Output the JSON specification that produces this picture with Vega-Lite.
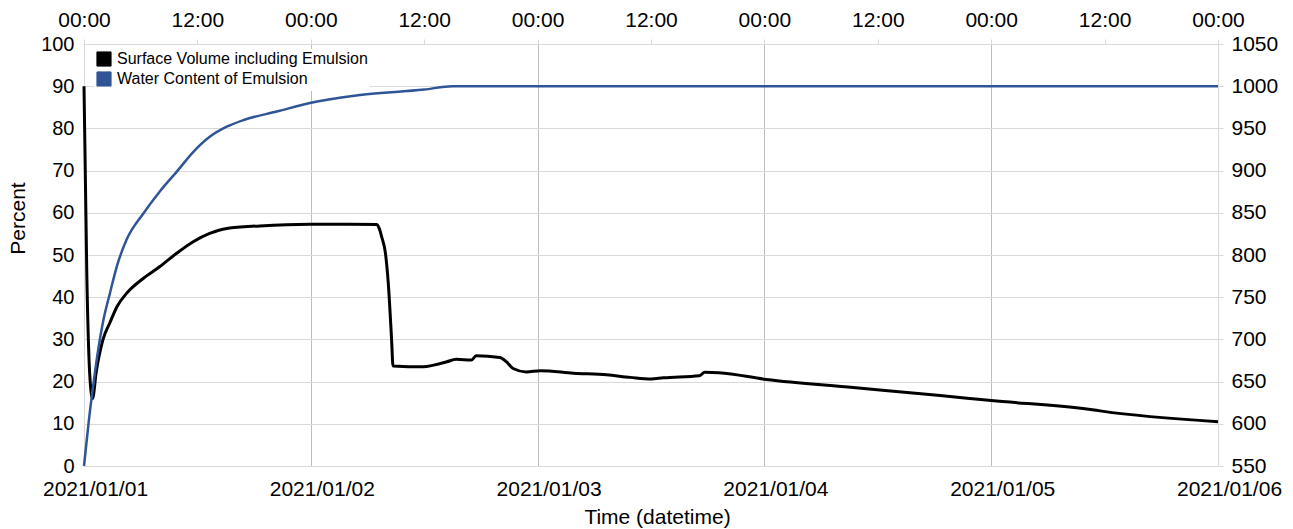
{
  "$schema": "https://vega.github.io/schema/vega-lite/v6.json",
  "autosize": {"type": "none"},
  "width": 1134,
  "height": 422,
  "padding": {"left": 84, "top": 44, "right": 75, "bottom": 63},
  "background": "white",
  "config": {
    "font": "Liberation Sans",
    "view": {"stroke": null},
    "axis": {"labelFont": "Liberation Sans", "titleFont": "Liberation Sans", "labelColor": "#000", "titleColor": "#000", "labelFontSize": 21, "titleFontSize": 21, "titleFontWeight": "normal", "labelFlush": false, "labelOverlap": false}
  },
  "datasets": {
    "volume": [
      {"time": "2021-01-01T00:00:00Z", "volume": 1000, "series": "Surface Volume including Emulsion"},
      {"time": "2021-01-01T00:18:00Z", "volume": 775, "series": "Surface Volume including Emulsion"},
      {"time": "2021-01-01T00:36:00Z", "volume": 660, "series": "Surface Volume including Emulsion"},
      {"time": "2021-01-01T00:54:00Z", "volume": 630, "series": "Surface Volume including Emulsion"},
      {"time": "2021-01-01T01:18:00Z", "volume": 662, "series": "Surface Volume including Emulsion"},
      {"time": "2021-01-01T02:00:00Z", "volume": 699.5, "series": "Surface Volume including Emulsion"},
      {"time": "2021-01-01T02:45:00Z", "volume": 720, "series": "Surface Volume including Emulsion"},
      {"time": "2021-01-01T03:30:00Z", "volume": 739, "series": "Surface Volume including Emulsion"},
      {"time": "2021-01-01T04:30:00Z", "volume": 754.5, "series": "Surface Volume including Emulsion"},
      {"time": "2021-01-01T06:18:00Z", "volume": 772.5, "series": "Surface Volume including Emulsion"},
      {"time": "2021-01-01T08:00:00Z", "volume": 786, "series": "Surface Volume including Emulsion"},
      {"time": "2021-01-01T09:48:00Z", "volume": 802, "series": "Surface Volume including Emulsion"},
      {"time": "2021-01-01T11:36:00Z", "volume": 816, "series": "Surface Volume including Emulsion"},
      {"time": "2021-01-01T13:18:00Z", "volume": 825.5, "series": "Surface Volume including Emulsion"},
      {"time": "2021-01-01T15:06:00Z", "volume": 831.5, "series": "Surface Volume including Emulsion"},
      {"time": "2021-01-01T18:36:00Z", "volume": 834.5, "series": "Surface Volume including Emulsion"},
      {"time": "2021-01-01T23:54:00Z", "volume": 836.5, "series": "Surface Volume including Emulsion"},
      {"time": "2021-01-02T04:00:00Z", "volume": 836.5, "series": "Surface Volume including Emulsion"},
      {"time": "2021-01-02T07:00:00Z", "volume": 836, "series": "Surface Volume including Emulsion"},
      {"time": "2021-01-02T07:18:00Z", "volume": 829.5, "series": "Surface Volume including Emulsion"},
      {"time": "2021-01-02T07:30:00Z", "volume": 821.5, "series": "Surface Volume including Emulsion"},
      {"time": "2021-01-02T07:54:00Z", "volume": 802, "series": "Surface Volume including Emulsion"},
      {"time": "2021-01-02T08:12:00Z", "volume": 766.5, "series": "Surface Volume including Emulsion"},
      {"time": "2021-01-02T08:33:00Z", "volume": 699.5, "series": "Surface Volume including Emulsion"},
      {"time": "2021-01-02T08:42:00Z", "volume": 668.5, "series": "Surface Volume including Emulsion"},
      {"time": "2021-01-02T11:54:00Z", "volume": 667.5, "series": "Surface Volume including Emulsion"},
      {"time": "2021-01-02T13:00:00Z", "volume": 669.5, "series": "Surface Volume including Emulsion"},
      {"time": "2021-01-02T14:24:00Z", "volume": 673.5, "series": "Surface Volume including Emulsion"},
      {"time": "2021-01-02T15:24:00Z", "volume": 676.5, "series": "Surface Volume including Emulsion"},
      {"time": "2021-01-02T17:00:00Z", "volume": 675.5, "series": "Surface Volume including Emulsion"},
      {"time": "2021-01-02T17:30:00Z", "volume": 680.5, "series": "Surface Volume including Emulsion"},
      {"time": "2021-01-02T20:00:00Z", "volume": 678.5, "series": "Surface Volume including Emulsion"},
      {"time": "2021-01-02T20:42:00Z", "volume": 673.5, "series": "Surface Volume including Emulsion"},
      {"time": "2021-01-02T21:24:00Z", "volume": 665.5, "series": "Surface Volume including Emulsion"},
      {"time": "2021-01-02T22:48:00Z", "volume": 661.5, "series": "Surface Volume including Emulsion"},
      {"time": "2021-01-03T00:18:00Z", "volume": 663, "series": "Surface Volume including Emulsion"},
      {"time": "2021-01-03T03:48:00Z", "volume": 660, "series": "Surface Volume including Emulsion"},
      {"time": "2021-01-03T07:18:00Z", "volume": 658, "series": "Surface Volume including Emulsion"},
      {"time": "2021-01-03T09:48:00Z", "volume": 655, "series": "Surface Volume including Emulsion"},
      {"time": "2021-01-03T12:00:00Z", "volume": 653, "series": "Surface Volume including Emulsion"},
      {"time": "2021-01-03T13:18:00Z", "volume": 654.5, "series": "Surface Volume including Emulsion"},
      {"time": "2021-01-03T17:06:00Z", "volume": 657, "series": "Surface Volume including Emulsion"},
      {"time": "2021-01-03T17:42:00Z", "volume": 661, "series": "Surface Volume including Emulsion"},
      {"time": "2021-01-03T19:12:00Z", "volume": 660.5, "series": "Surface Volume including Emulsion"},
      {"time": "2021-01-04T00:12:00Z", "volume": 652.5, "series": "Surface Volume including Emulsion"},
      {"time": "2021-01-04T09:24:00Z", "volume": 643, "series": "Surface Volume including Emulsion"},
      {"time": "2021-01-04T18:36:00Z", "volume": 633.5, "series": "Surface Volume including Emulsion"},
      {"time": "2021-01-05T00:00:00Z", "volume": 627.5, "series": "Surface Volume including Emulsion"},
      {"time": "2021-01-05T10:30:00Z", "volume": 617, "series": "Surface Volume including Emulsion"},
      {"time": "2021-01-05T11:42:00Z", "volume": 615, "series": "Surface Volume including Emulsion"},
      {"time": "2021-01-06T00:00:00Z", "volume": 602.5, "series": "Surface Volume including Emulsion"}
    ],
    "water": [
      {"time": "2021-01-01T00:00:00Z", "percent": 0, "series": "Water Content of Emulsion"},
      {"time": "2021-01-01T00:30:00Z", "percent": 10.5, "series": "Water Content of Emulsion"},
      {"time": "2021-01-01T01:00:00Z", "percent": 19.5, "series": "Water Content of Emulsion"},
      {"time": "2021-01-01T01:30:00Z", "percent": 27.5, "series": "Water Content of Emulsion"},
      {"time": "2021-01-01T02:00:00Z", "percent": 34, "series": "Water Content of Emulsion"},
      {"time": "2021-01-01T02:45:00Z", "percent": 41, "series": "Water Content of Emulsion"},
      {"time": "2021-01-01T03:30:00Z", "percent": 47.5, "series": "Water Content of Emulsion"},
      {"time": "2021-01-01T04:30:00Z", "percent": 53.6, "series": "Water Content of Emulsion"},
      {"time": "2021-01-01T06:18:00Z", "percent": 59.9, "series": "Water Content of Emulsion"},
      {"time": "2021-01-01T08:00:00Z", "percent": 65, "series": "Water Content of Emulsion"},
      {"time": "2021-01-01T09:48:00Z", "percent": 69.7, "series": "Water Content of Emulsion"},
      {"time": "2021-01-01T11:36:00Z", "percent": 74.5, "series": "Water Content of Emulsion"},
      {"time": "2021-01-01T13:18:00Z", "percent": 78, "series": "Water Content of Emulsion"},
      {"time": "2021-01-01T15:06:00Z", "percent": 80.4, "series": "Water Content of Emulsion"},
      {"time": "2021-01-01T16:54:00Z", "percent": 82, "series": "Water Content of Emulsion"},
      {"time": "2021-01-01T20:24:00Z", "percent": 84, "series": "Water Content of Emulsion"},
      {"time": "2021-01-01T23:54:00Z", "percent": 86, "series": "Water Content of Emulsion"},
      {"time": "2021-01-02T05:12:00Z", "percent": 87.9, "series": "Water Content of Emulsion"},
      {"time": "2021-01-02T12:00:00Z", "percent": 89.2, "series": "Water Content of Emulsion"},
      {"time": "2021-01-02T15:00:00Z", "percent": 90, "series": "Water Content of Emulsion"},
      {"time": "2021-01-06T00:00:00Z", "percent": 90, "series": "Water Content of Emulsion"}
    ]
  },
  "layer": [
    {
      "data": {"name": "volume"},
      "mark": {"type": "line", "strokeWidth": 3, "strokeJoin": "round", "interpolate": "monotone"},
      "encoding": {
        "x": {
          "field": "time", "type": "temporal",
          "scale": {"type": "utc", "domain": [{"year": 2021, "month": 1, "date": 1, "utc": true}, {"year": 2021, "month": 1, "date": 6, "utc": true}]},
          "axis": {
            "orient": "bottom",
            "values": [
              {"year": 2021, "month": 1, "date": 1, "utc": true},
              {"year": 2021, "month": 1, "date": 2, "utc": true},
              {"year": 2021, "month": 1, "date": 3, "utc": true},
              {"year": 2021, "month": 1, "date": 4, "utc": true},
              {"year": 2021, "month": 1, "date": 5, "utc": true},
              {"year": 2021, "month": 1, "date": 6, "utc": true}
            ],
            "labelExpr": "utcFormat(datum.value, '%Y/%m/%d')",
            "labelOffset": 11,
            "title": "Time (datetime)",
            "titleX": 573,
            "grid": true, "gridColor": "#bdbdbd", "gridWidth": 1,
            "domain": true, "domainColor": "#d9d9d9",
            "ticks": false, "labelPadding": 12, "titlePadding": 7
          }
        },
        "y": {
          "field": "volume", "type": "quantitative",
          "scale": {"domain": [550, 1050], "nice": false, "zero": false},
          "axis": {
            "orient": "right", "values": [550, 600, 650, 700, 750, 800, 850, 900, 950, 1000, 1050],
            "format": "d",
            "title": null, "grid": false, "domainColor": "#d9d9d9",
            "tickColor": "#d9d9d9", "tickSize": 5, "labelPadding": 8
          }
        },
        "color": {
          "field": "series", "type": "nominal",
          "scale": {"domain": ["Surface Volume including Emulsion", "Water Content of Emulsion"], "range": ["#000000", "#2f5597"]},
          "legend": {
            "orient": "none", "legendX": 10, "legendY": 5, "title": null,
            "symbolType": "square", "symbolSize": 200, "symbolStrokeWidth": 1,
            "labelFontSize": 16, "labelFont": "Liberation Sans", "labelColor": "#000", "labelLimit": 400, "labelOffset": 5,
            "fillColor": "white", "padding": 2, "rowPadding": 0,
            "encode": {"symbols": {"update": {"fill": {"scale": "color", "field": "value"}, "stroke": {"value": "#999999"}, "fillOpacity": {"value": 1}}}}
          }
        }
      }
    },
    {
      "data": {"name": "water"},
      "mark": {"type": "line", "strokeWidth": 2.5, "strokeJoin": "round", "interpolate": "monotone"},
      "encoding": {
        "x": {
          "field": "time", "type": "temporal",
          "scale": {"type": "utc", "domain": [{"year": 2021, "month": 1, "date": 1, "utc": true}, {"year": 2021, "month": 1, "date": 6, "utc": true}]},
          "axis": {
            "orient": "top",
            "values": [
              {"year": 2021, "month": 1, "date": 1, "hours": 0, "utc": true},
              {"year": 2021, "month": 1, "date": 1, "hours": 12, "utc": true},
              {"year": 2021, "month": 1, "date": 2, "hours": 0, "utc": true},
              {"year": 2021, "month": 1, "date": 2, "hours": 12, "utc": true},
              {"year": 2021, "month": 1, "date": 3, "hours": 0, "utc": true},
              {"year": 2021, "month": 1, "date": 3, "hours": 12, "utc": true},
              {"year": 2021, "month": 1, "date": 4, "hours": 0, "utc": true},
              {"year": 2021, "month": 1, "date": 4, "hours": 12, "utc": true},
              {"year": 2021, "month": 1, "date": 5, "hours": 0, "utc": true},
              {"year": 2021, "month": 1, "date": 5, "hours": 12, "utc": true},
              {"year": 2021, "month": 1, "date": 6, "hours": 0, "utc": true}
            ],
            "labelExpr": "utcFormat(datum.value, '%H:%M')",
            "title": null, "grid": false, "domain": false,
            "ticks": true, "tickColor": "#d9d9d9", "tickSize": 5, "labelPadding": 9
          }
        },
        "y": {
          "field": "percent", "type": "quantitative",
          "scale": {"domain": [0, 100], "nice": false},
          "axis": {
            "orient": "left", "values": [0, 10, 20, 30, 40, 50, 60, 70, 80, 90, 100],
            "title": "Percent", "titleY": 174, "grid": true, "gridColor": "#d9d9d9",
            "labelFontSize": 20,
            "domainColor": "#d9d9d9", "ticks": false, "labelPadding": 10, "titlePadding": 12
          }
        },
        "color": {
          "field": "series", "type": "nominal",
          "scale": {"domain": ["Surface Volume including Emulsion", "Water Content of Emulsion"], "range": ["#000000", "#2f5597"]}
        }
      }
    }
  ],
  "resolve": {"scale": {"y": "independent"}, "axis": {"x": "independent", "y": "independent"}}
}
